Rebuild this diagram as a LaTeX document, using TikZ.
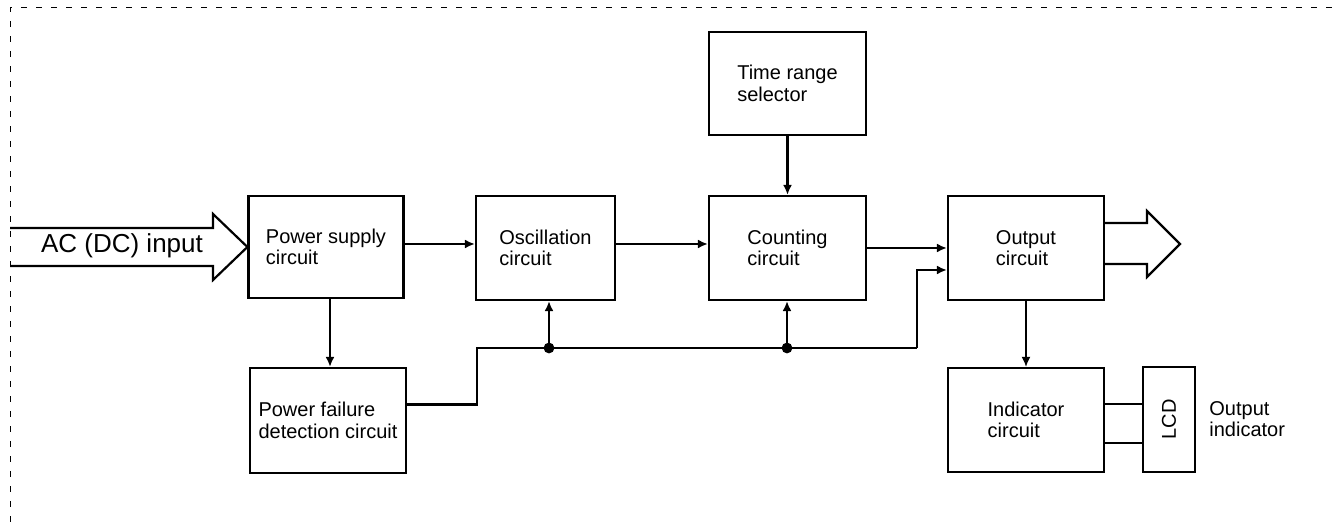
\documentclass[tikz,border=0pt]{standalone}
\usepackage{fontspec}
\setmainfont{Liberation Sans}
\usetikzlibrary{arrows.meta}

\begin{document}
\begin{tikzpicture}[x=0.5pt, y=-0.5pt,
    block/.style={draw, line width=1.1pt, align=left, inner sep=2pt, font=\fontsize{10}{10.8}\selectfont},
    conn/.style={-{Latex[length=5pt,width=4.5pt]}, line width=1.4pt}]
            \useasboundingbox (0,0) rectangle (1333,522);
            \draw[dash pattern=on 3pt off 4.5pt, line width=0.5pt] (10,522) -- (10,8) -- (1333,8);

            \node[block, minimum width=77.5pt, minimum height=51pt] (psupply) at (326, 247) {Power supply\\circuit};
            \node[block, minimum width=69.5pt, minimum height=52pt] (osc) at (545.5, 248) {Oscillation\\circuit};
            \node[block, minimum width=78.5pt, minimum height=52pt] (count) at (787.5, 248) {Counting\\circuit};
            \node[block, minimum width=78.5pt, minimum height=51.5pt] (trange) at (787.5, 83.5) {Time range\\selector};
            \node[block, minimum width=78pt, minimum height=52pt] (outc) at (1026, 248) {Output\\circuit};
            \node[block, minimum width=78pt, minimum height=52.5pt] (pfail) at (328, 420.5) {Power failure\\detection circuit};
            \node[block, minimum width=78pt, minimum height=52pt] (indic) at (1026, 420) {Indicator\\circuit};
            \node[block, rotate=90, minimum width=52.5pt, minimum height=26pt] (lcd) at (1169, 419.5) {LCD};
            \node[anchor=west, inner sep=0pt, align=left, font=\fontsize{10}{10.8}\selectfont] (outind) at (1209, 419) {Output\\indicator};

            % AC input arrow
            \draw[line width=1.1pt] (10,228) -- (213,228) -- (213,214) -- (psupply.west |- 0,247) -- (213,280) -- (213,266) -- (10,266);
            \node[font=\fontsize{13}{15}\selectfont] (acin) at (122, 246) {AC (DC) input};

            % output arrow
            \draw[line width=1.1pt] (outc.east |- 0,223) -- (1147,223) -- (1147,211) -- (1180,244) -- (1147,277) -- (1147,264) -- (outc.east |- 0,264);

            \draw[conn] (psupply.east |- 0,244) -- (osc.west |- 0,244);
            \draw[conn] (osc.east |- 0,244) -- (count.west |- 0,244);
            \draw[conn] (count.east |- 0,248) -- (outc.west |- 0,248);
            \draw[conn] (trange.south) -- (count.north);
            \draw[conn] (330,0 |- psupply.south) -- (330,0 |- pfail.north);

            \coordinate (j1) at (549, 348);
            \coordinate (j2) at (787, 348);
            \coordinate (bend) at (917, 348);
            \draw[line width=1.4pt] ([yshift=8pt]pfail.east) -| (477,348) -- (j1) -- (j2) -- (bend);
            \draw[conn] (bend) |- ([yshift=-11pt]outc.west);
            \draw[conn] (j1) -- (j1 |- osc.south);
            \draw[conn] (j2) -- (j2 |- count.south);
            \fill (j1) circle (2.7pt);
            \fill (j2) circle (2.7pt);

            \draw[-{Latex[length=5pt,width=4.5pt]}, line width=0.8pt] (outc.south) -- (indic.north);
            \draw[line width=1.4pt] ([yshift=8pt]indic.east) -- ([yshift=8pt]indic.east -| lcd.north);
            \draw[line width=0.8pt] ([yshift=-11.5pt]indic.east) -- ([yshift=-11.5pt]indic.east -| lcd.north);
\end{tikzpicture}
\end{document}
